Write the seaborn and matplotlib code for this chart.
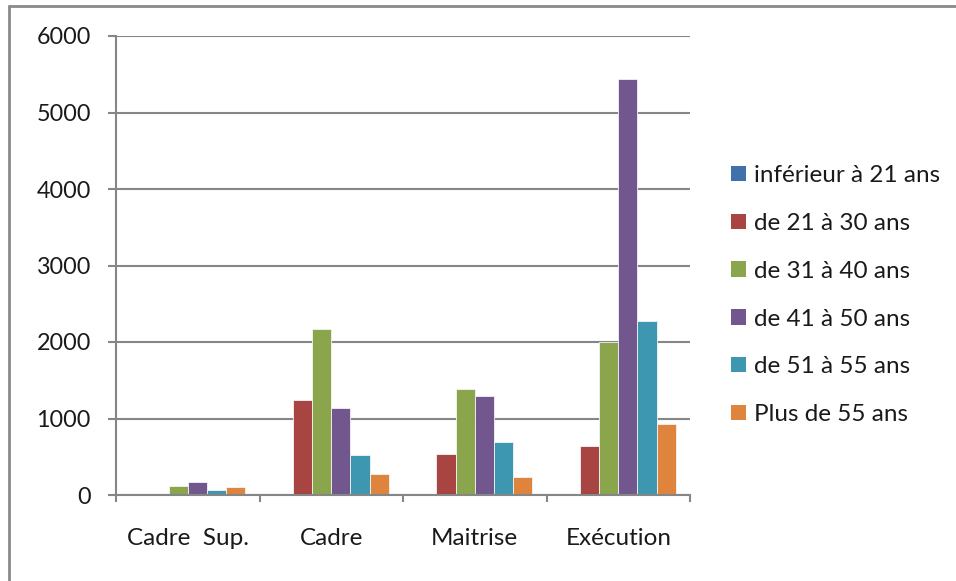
import matplotlib
matplotlib.use("Agg")
import matplotlib.pyplot as plt
from matplotlib.lines import Line2D
from matplotlib.patches import Patch
import seaborn as sns
import pandas as pd

categories = ["Cadre  Sup.", "Cadre", "Maitrise", "Exécution"]
series = ["inférieur à 21 ans", "de 21 à 30 ans", "de 31 à 40 ans",
          "de 41 à 50 ans", "de 51 à 55 ans", "Plus de 55 ans"]
inf21 = [0, 0, 0, 0]
a21_30 = [0, 1245, 536, 645]
a31_40 = [120, 2170, 1390, 1995]
a41_50 = [166, 1141, 1298, 5438]
a51_55 = [65, 527, 689, 2275]
plus55 = [105, 270, 231, 932]
yticks = [0, 1000, 2000, 3000, 4000, 5000, 6000]
colors = ["#4071AA", "#A84442", "#8AA54C", "#72578F", "#3E97B0", "#DE843C"]

values = [inf21, a21_30, a31_40, a41_50, a51_55, plus55]
rows = []
for s, vals in zip(series, values):
    for c, v in zip(categories, vals):
        rows.append({"cat": c, "age": s, "val": v})
df = pd.DataFrame(rows)

sns.set_style("white")
plt.rcParams["font.family"] = ["Lato", "DejaVu Sans"]
grid_c = "#868686"
txt_c = "#1a1a1a"

fig = plt.figure(figsize=(9.56, 5.81), dpi=100)
ax = fig.add_axes([116/956, 1-495/581, (690-116)/956, (495-36)/581])
sns.barplot(data=df, x="cat", y="val", hue="age", order=categories,
            hue_order=series, palette=colors, width=0.8, ax=ax,
            edgecolor="#f4f4f4", linewidth=0.6, legend=False, saturation=1)

ax.set_ylim(0, 6000)
ax.set_xlim(-0.5, 3.5)
ax.set_yticks(yticks)
ax.set_yticklabels([str(t) for t in yticks])
ax.yaxis.grid(True, color=grid_c, linewidth=1.5)
ax.set_axisbelow(True)
ax.set_xlabel("")
ax.set_ylabel("")
for sp in ["top", "right"]:
    ax.spines[sp].set_visible(False)
for sp in ["left", "bottom"]:
    ax.spines[sp].set_color(grid_c)
    ax.spines[sp].set_linewidth(1.5)
ax.tick_params(axis="y", direction="out", length=6, width=1.5, color=grid_c,
               labelsize=16.8, pad=12, labelcolor=txt_c, left=True)
ax.set_xticks(range(len(categories)))
ax.set_xticklabels(categories)
ax.tick_params(axis="x", which="major", length=0, pad=24, labelsize=17.5,
               labelcolor=txt_c)
ax.set_xticks([-0.5, 0.5, 1.5, 2.5, 3.5], minor=True)
ax.tick_params(axis="x", which="minor", direction="out", length=5, width=1.5,
               color=grid_c, bottom=True)

handles = [Patch(facecolor=c, edgecolor="none") for c in colors]
fig.legend(handles, series, loc="center left", bbox_to_anchor=(0.752, 0.492),
           frameon=False, fontsize=17.5, handlelength=0.6, handleheight=0.6,
           handletextpad=0.35, labelspacing=1.1, borderpad=0,
           labelcolor=txt_c)

fig.add_artist(Line2D([9/956, 9/956], [0, 1-6/581], color="#8a8a8a", lw=2))
fig.add_artist(Line2D([9/956, 1], [1-6/581, 1-6/581], color="#8a8a8a", lw=2))

fig.savefig("out.png", dpi=100)
